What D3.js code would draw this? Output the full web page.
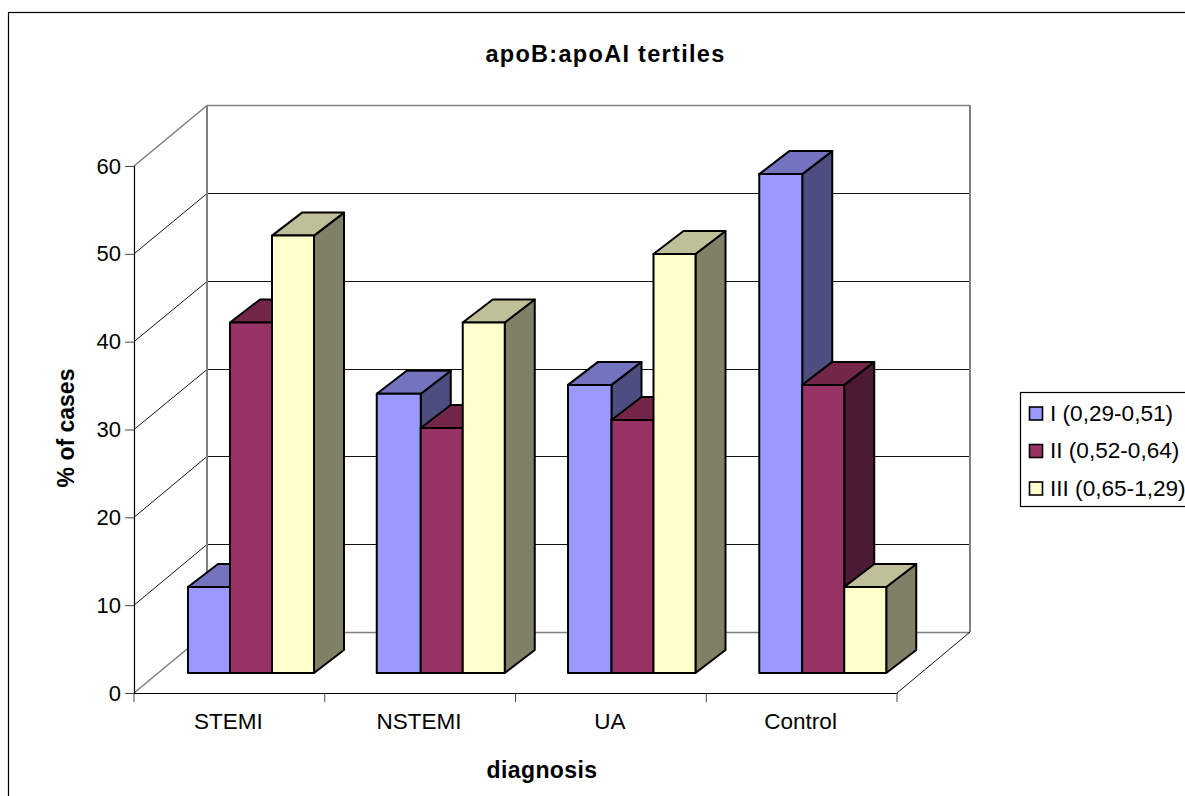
<!DOCTYPE html>
<html><head><meta charset="utf-8">
<style>html,body{margin:0;padding:0;background:#fff;overflow:hidden}svg{display:block}text{font-family:"Liberation Sans",Arial,sans-serif;fill:#000}</style>
<script src="https://cdn.jsdelivr.net/npm/d3@7"></script></head><body>
<svg id="c" width="1185" height="796"></svg>
<script>
const categories = ["STEMI","NSTEMI","UA","Control"];
const seriesNames = ["I (0,29-0,51)","II (0,52-0,64)","III (0,65-1,29)"];
const valuesI = [9.8,31.8,32.8,56.8];
const valuesII = [39.9,27.9,28.8,32.8];
const valuesIII = [49.8,39.9,47.7,9.8];
const yTicks = [0,10,20,30,40,50,60];
const faceColors = ["#9999FF","#993366","#FFFFCC"];
const topColors = ["#7373BF","#732649","#BFBF99"];
const sideColors = ["#4D4D80","#4D1A33","#808066"];
const series = [valuesI,valuesII,valuesIII];

const svg = d3.select("#c");
const x = d3.scaleBand().domain(categories).range([134,897]);
const y = d3.scaleLinear().domain([0,60]).range([693,166]);
const depth = {dx:73, dy:-61};
const barDepth = {dx:30, dy:-23};
const floorOff = {dx:22, dy:-20};
const barW = 42, barPad = 32;
const leadExtra = [0,2,1.5,1];

svg.append("rect").attr("x",8.5).attr("y",12.5).attr("width",1300).attr("height",900).attr("fill","#fff").attr("stroke","#000").attr("stroke-width",1.2);

const grey="#808080";
const g = svg.append("g");
yTicks.forEach(t=>{
  const inner = t!==0 && t!==60;
  g.append("line").attr("x1",x.range()[0]+depth.dx).attr("x2",x.range()[1]+depth.dx)
    .attr("y1",Math.round(y(t)+depth.dy)+.5).attr("y2",Math.round(y(t)+depth.dy)+.5)
    .attr("stroke",inner?"#111":grey).attr("stroke-width",inner?1:1.6);
  g.append("line").attr("x1",x.range()[0]).attr("x2",x.range()[0]+depth.dx)
    .attr("y1",y(t)).attr("y2",Math.round(y(t)+depth.dy)+.5)
    .attr("stroke",inner?"#111":grey).attr("stroke-width",inner?1:1.6);
});
[x.range()[0]+depth.dx, x.range()[1]+depth.dx].forEach(px=>{
  g.append("line").attr("x1",px).attr("x2",px).attr("y1",y(0)+depth.dy).attr("y2",y(60)+depth.dy)
   .attr("stroke",grey).attr("stroke-width",2);
});
g.append("line").attr("x1",x.range()[1]).attr("x2",x.range()[1]+depth.dx)
  .attr("y1",y(0)).attr("y2",y(0)+depth.dy).attr("stroke","#111").attr("stroke-width",1);

const yAxis = d3.axisLeft(y).tickValues(yTicks).tickSize(9).tickPadding(4).tickFormat(d3.format("d"));
const ya = svg.append("g").attr("transform",`translate(${x.range()[0]},0)`).call(yAxis);
ya.selectAll("path").attr("stroke","#000").attr("stroke-width",1.2);
ya.selectAll(".tick line").attr("stroke","#444").attr("stroke-width",1);
ya.selectAll("text").attr("font-size",22).attr("font-family",'"Liberation Sans",Arial,sans-serif').attr("fill","#000");

const xAxis = d3.axisBottom(x).tickValues([]).tickSizeOuter(0);
const xa = svg.append("g").attr("transform",`translate(0,${y(0)})`).call(xAxis);
xa.selectAll("path").attr("stroke","#000").attr("stroke-width",1.2);
const xEdges = categories.map(c=>x(c)).concat([x.range()[1]]);
xa.selectAll("line.edge").data(xEdges).join("line").attr("class","edge")
  .attr("x1",d=>d).attr("x2",d=>d).attr("y1",0).attr("y2",9).attr("stroke","#444").attr("stroke-width",1);
svg.selectAll("text.cat").data(categories).join("text").attr("class","cat")
  .attr("x",d=>x(d)+x.bandwidth()/2-1).attr("y",729).attr("text-anchor","middle").attr("font-size",22.5).text(d=>d);

const bars = svg.append("g");
categories.forEach((c,ci)=>{
  series.forEach((vals,si)=>{
    const v = vals[ci];
    const x0 = x(c)+floorOff.dx+barPad+si*barW-(si===0?leadExtra[ci]:0), x1 = x(c)+floorOff.dx+barPad+(si+1)*barW;
    const yb = y(0)+floorOff.dy, yt = yb-(y(0)-y(v));
    const {dx,dy} = barDepth;
    const poly = (pts,fill)=>bars.append("polygon").attr("points",pts.map(p=>p.join(",")).join(" "))
      .attr("fill",fill).attr("stroke","#000").attr("stroke-width",2).attr("stroke-linejoin","round");
    poly([[x1,yb],[x1+dx,yb+dy],[x1+dx,yt+dy],[x1,yt]],sideColors[si]);
    poly([[x0,yt],[x1,yt],[x1+dx,yt+dy],[x0+dx,yt+dy]],topColors[si]);
    poly([[x0,yb],[x1,yb],[x1,yt],[x0,yt]],faceColors[si]);
  });
});

svg.append("text").attr("x",605.5).attr("y",62).attr("text-anchor","middle").attr("font-size",23.5).attr("font-weight","bold").attr("letter-spacing","1.3px").text("apoB:apoAI tertiles");
svg.append("text").attr("x",542).attr("y",778).attr("text-anchor","middle").attr("font-size",23).attr("font-weight","bold").attr("letter-spacing","0.4px").text("diagnosis");
svg.append("text").attr("transform","translate(74,428) rotate(-90)").attr("text-anchor","middle").attr("font-size",23).attr("font-weight","bold").text("% of cases");

svg.append("rect").attr("x",1020.5).attr("y",392.5).attr("width",200).attr("height",114).attr("fill","#fff").attr("stroke","#000").attr("stroke-width",1.2);
const rowY = d3.scalePoint().domain(seriesNames).range([413.5,488.5]);
seriesNames.forEach((n,i)=>{
  svg.append("rect").attr("x",1029.5).attr("y",rowY(n)-6.5).attr("width",13).attr("height",13).attr("fill",faceColors[i]).attr("stroke","#000").attr("stroke-width",1.6);
  svg.append("text").attr("x",1050).attr("y",rowY(n)+7).attr("font-size",22.6).text(n);
});
</script></body></html>
